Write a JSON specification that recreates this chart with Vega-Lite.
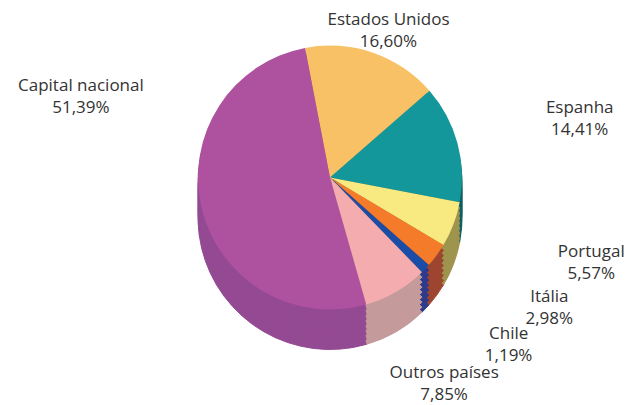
{
  "$schema": "https://vega.github.io/schema/vega-lite/v6.json",
  "width": 592,
  "height": 355,
  "autosize": "none",
  "padding": {"left": 34, "right": 0, "top": 0, "bottom": 50},
  "background": "white",
  "config": {"view": {"stroke": null}, "text": {"font": "Open Sans", "fontSize": 17, "fill": "#333333", "lineBreak": "\n", "align": "center", "baseline": "middle", "lineHeight": 22}, "arc": {"strokeWidth": 1}},
  "data": {"values": [
    {"pais": "Estados Unidos", "valor": 16.60, "rotulo": "Estados Unidos\n16,60%", "ordem": 1},
    {"pais": "Espanha", "valor": 14.41, "rotulo": "Espanha\n14,41%", "ordem": 2},
    {"pais": "Portugal", "valor": 5.57, "rotulo": "Portugal\n5,57%", "ordem": 3},
    {"pais": "Itália", "valor": 2.98, "rotulo": "Itália\n2,98%", "ordem": 4},
    {"pais": "Chile", "valor": 1.19, "rotulo": "Chile\n1,19%", "ordem": 5},
    {"pais": "Outros países", "valor": 7.85, "rotulo": "Outros países\n7,85%", "ordem": 6},
    {"pais": "Capital nacional", "valor": 51.39, "rotulo": "Capital nacional\n51,39%", "ordem": 7}
  ]},
  "encoding": {
    "theta": {"field": "valor", "type": "quantitative", "stack": true, "scale": {"range": [-0.19, 6.0932]}},
    "order": {"field": "ordem", "type": "quantitative"}
  },
  "layer": [
    {"mark": {"type": "arc", "outerRadius": 132, "yOffset": 40}, "encoding": {
      "fill": {"field": "pais", "type": "nominal", "legend": null, "scale": {"domain": ["Estados Unidos", "Espanha", "Portugal", "Itália", "Chile", "Outros países", "Capital nacional"], "range": ["#C59A50", "#0E5F60", "#9E944E", "#9E4531", "#2E3A8C", "#C49A9B", "#944A92"]}},
      "stroke": {"field": "pais", "type": "nominal", "legend": null, "scale": {"domain": ["Estados Unidos", "Espanha", "Portugal", "Itália", "Chile", "Outros países", "Capital nacional"], "range": ["#C59A50", "#0E5F60", "#9E944E", "#9E4531", "#2E3A8C", "#C49A9B", "#944A92"]}}}},
    {"mark": {"type": "arc", "outerRadius": 132, "yOffset": 35}, "encoding": {"fill": {"field": "pais", "type": "nominal", "legend": null}, "stroke": {"field": "pais", "type": "nominal", "legend": null}}},
    {"mark": {"type": "arc", "outerRadius": 132, "yOffset": 30}, "encoding": {"fill": {"field": "pais", "type": "nominal", "legend": null}, "stroke": {"field": "pais", "type": "nominal", "legend": null}}},
    {"mark": {"type": "arc", "outerRadius": 132, "yOffset": 25}, "encoding": {"fill": {"field": "pais", "type": "nominal", "legend": null}, "stroke": {"field": "pais", "type": "nominal", "legend": null}}},
    {"mark": {"type": "arc", "outerRadius": 132, "yOffset": 20}, "encoding": {"fill": {"field": "pais", "type": "nominal", "legend": null}, "stroke": {"field": "pais", "type": "nominal", "legend": null}}},
    {"mark": {"type": "arc", "outerRadius": 132, "yOffset": 15}, "encoding": {"fill": {"field": "pais", "type": "nominal", "legend": null}, "stroke": {"field": "pais", "type": "nominal", "legend": null}}},
    {"mark": {"type": "arc", "outerRadius": 132, "yOffset": 10}, "encoding": {"fill": {"field": "pais", "type": "nominal", "legend": null}, "stroke": {"field": "pais", "type": "nominal", "legend": null}}},
    {"mark": {"type": "arc", "outerRadius": 132, "yOffset": 5}, "encoding": {"fill": {"field": "pais", "type": "nominal", "legend": null}, "stroke": {"field": "pais", "type": "nominal", "legend": null}}},
    {"mark": {"type": "arc", "outerRadius": 132, "strokeWidth": 0}, "encoding": {"color": {"field": "pais", "type": "nominal", "legend": null, "scale": {"domain": ["Estados Unidos", "Espanha", "Portugal", "Itália", "Chile", "Outros países", "Capital nacional"], "range": ["#F8C166", "#14979A", "#F8EA80", "#F37B2A", "#1B4DA6", "#F5ACAF", "#AE519E"]}}}},
    {"mark": {"type": "text", "radius": 155, "dx": 8, "dy": -11}, "encoding": {"text": {"condition": {"test": "datum.pais === 'Estados Unidos'", "field": "rotulo"}, "value": ""}}},
    {"mark": {"type": "text", "radius": 180, "dx": 76, "dy": -22}, "encoding": {"text": {"condition": {"test": "datum.pais === 'Espanha'", "field": "rotulo"}, "value": ""}}},
    {"mark": {"type": "text", "radius": 180, "dx": 93, "dy": 11}, "encoding": {"text": {"condition": {"test": "datum.pais === 'Portugal'", "field": "rotulo"}, "value": ""}}},
    {"mark": {"type": "text", "radius": 180, "dx": 74, "dy": 13}, "encoding": {"text": {"condition": {"test": "datum.pais === 'Itália'", "field": "rotulo"}, "value": ""}}},
    {"mark": {"type": "text", "radius": 200, "dx": 34, "dy": 18}, "encoding": {"text": {"condition": {"test": "datum.pais === 'Chile'", "field": "rotulo"}, "value": ""}}},
    {"mark": {"type": "text", "radius": 200, "dx": 14, "dy": 22}, "encoding": {"text": {"condition": {"test": "datum.pais === 'Outros países'", "field": "rotulo"}, "value": ""}}},
    {"mark": {"type": "text", "radius": 180, "dx": -74, "dy": -133}, "encoding": {"text": {"condition": {"test": "datum.pais === 'Capital nacional'", "field": "rotulo"}, "value": ""}}}
  ]
}
